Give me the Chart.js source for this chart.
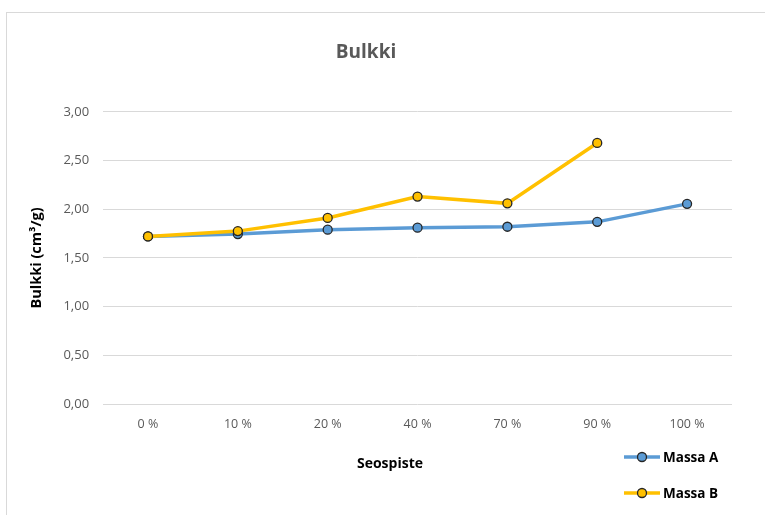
<!DOCTYPE html>
<html>
<head>
<meta charset="utf-8">
<script src="https://cdn.jsdelivr.net/npm/chart.js@4"></script>
<style>
  html, body { margin: 0; padding: 0; background: #fff; }
  #wrap { position: relative; width: 765px; height: 515px; overflow: hidden; }
  #frame { position: absolute; left: 6px; top: 12px; width: 760px; height: 520px;
           border-left: 1px solid #d9d9d9; border-top: 1px solid #d9d9d9; }
  canvas { position: absolute; left: 0; top: 0; }
  #xTitle { position: absolute; left: 290px; width: 200px; top: 453px; text-align: center;
            font: bold 14px "Open Sans", sans-serif; color: #000; }
  .leg { position: absolute; left: 624px; height: 16px; font: bold 13.5px "Open Sans", sans-serif; color: #000; }
  .leg svg { position: absolute; left: 0; top: 0; }
  .leg span { position: absolute; left: 39px; top: -1px; white-space: nowrap; }
</style>
</head>
<body>
<div id="wrap">
  <div id="frame"></div>
  <canvas id="bulkkiChart" width="765" height="515"></canvas>
  <div id="xTitle">Seospiste</div>
  <div id="legend"></div>
</div>
<script>
const categories = ["0 %", "10 %", "20 %", "40 %", "70 %", "90 %", "100 %"];
const massaA = [1.72, 1.745, 1.79, 1.81, 1.82, 1.87, 2.055];
const massaB = [1.72, 1.775, 1.91, 2.13, 2.06, 2.68, null];
const seriesNames = ["Massa A", "Massa B"];
const seriesColors = ["#5b9bd5", "#ffc000"];

const fontFamily = '"Open Sans", sans-serif';

// legend drawn beside the chart, below the x axis
const legendEl = document.getElementById("legend");
const legendTops = [449, 485];
seriesNames.forEach((name, i) => {
  legendEl.innerHTML += `<div class="leg" style="top:${legendTops[i]}px">
    <svg width="38" height="16"><line x1="0" y1="8" x2="36" y2="8" stroke="${seriesColors[i]}" stroke-width="3.5"/>
    <circle cx="18" cy="8" r="4.5" fill="${seriesColors[i]}" stroke="#262626" stroke-width="1.3"/></svg>
    <span>${name}</span></div>`;
});

const ctx = document.getElementById("bulkkiChart").getContext("2d");

new Chart(ctx, {
  type: "line",
  data: {
    labels: categories,
    datasets: [massaA, massaB].map((values, i) => ({
      label: seriesNames[i],
      data: values,
      order: 1 - i, // Massa B on top
      borderColor: seriesColors[i],
      backgroundColor: seriesColors[i],
      borderWidth: 3.5,
      pointRadius: 4.5,
      pointBorderWidth: 1.3,
      pointBorderColor: "#262626",
      pointBackgroundColor: seriesColors[i],
      tension: 0,
      spanGaps: false
    }))
  },
  options: {
    responsive: false,
    animation: false,
    layout: { padding: { left: 0, right: 33, top: 0, bottom: 78 } },
    plugins: {
      legend: { display: false },
      tooltip: { enabled: false },
      title: {
        display: true,
        text: "Bulkki",
        color: "#595959",
        font: { family: fontFamily, size: 19, weight: "bold" },
        padding: { top: 41, bottom: 48 }
      }
    },
    scales: {
      x: {
        offset: true,
        grid: { display: false },
        border: { display: false },
        ticks: {
          color: "#595959",
          font: { family: fontFamily, size: 12.5 },
          padding: 5,
          maxRotation: 0
        }
      },
      y: {
        min: 0,
        max: 3,
        grid: { color: "#d9d9d9", lineWidth: 1, drawTicks: false },
        border: { display: false },
        ticks: {
          stepSize: 0.5,
          color: "#595959",
          font: { family: fontFamily, size: 13 },
          padding: 14,
          callback: v => v.toFixed(2).replace(".", ",")
        },
        title: {
          display: true,
          text: "Bulkki (cm³/g)",
          color: "#000",
          font: { family: fontFamily, size: 14.5, weight: "bold" },
          padding: { top: 28, bottom: 4 }
        }
      }
    }
  }
});
</script>
</body>
</html>
